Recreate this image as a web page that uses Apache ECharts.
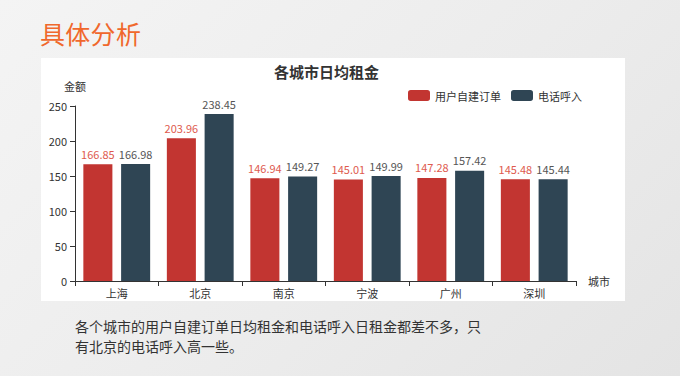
<!DOCTYPE html>
<html>
<head>
<meta charset="utf-8">
<script src="https://cdn.jsdelivr.net/npm/echarts@6/dist/echarts.min.js"></script>
<style>
html,body{margin:0;padding:0;width:680px;height:376px;overflow:hidden;}
body{background:linear-gradient(135deg,#f4f4f4 0%,#ececec 55%,#e4e4e4 100%);position:relative;font-family:"Noto Sans CJK SC","Noto Sans",sans-serif;}
#head{position:absolute;left:40px;top:17px;font-size:25px;color:#f0682c;line-height:32px;letter-spacing:0.3px;}
#chart{position:absolute;left:41px;top:58px;width:584px;height:243px;background:#fff;}
#note{position:absolute;left:75px;top:316px;width:470px;font-size:14px;line-height:20px;color:#333;}
</style>
</head>
<body>
<div id="head">具体分析</div>
<div id="chart"></div>
<div id="note">各个城市的用户自建订单日均租金和电话呼入日租金都差不多，只<br>有北京的电话呼入高一些。</div>
<script>
var titleText = '各城市日均租金';
var cities = ['上海', '北京', '南京', '宁波', '广州', '深圳'];
var seriesNames = ['用户自建订单', '电话呼入'];
var selfOrder = [166.85, 203.96, 146.94, 145.01, 147.28, 145.48];
var phoneCall = [166.98, 238.45, 149.27, 149.99, 157.42, 145.44];
var yTicks = [0, 50, 100, 150, 200, 250];

var chart = echarts.init(document.getElementById('chart'), null, {renderer: 'svg'});
var font = '"Noto Sans CJK SC","Noto Sans",sans-serif';
chart.setOption({
  animation: false,
  textStyle: {fontFamily: font},
  title: {
    text: titleText, left: 228, top: 1,
    textStyle: {fontSize: 15, fontWeight: 'bold', color: '#333', fontFamily: font}
  },
  legend: {
    data: seriesNames, left: 362, top: 27,
    itemWidth: 22, itemHeight: 11, itemGap: 10,
    textStyle: {fontSize: 11, color: '#333', fontFamily: font}
  },
  grid: {left: 34, right: 49, top: 48, bottom: 20, containLabel: false},
  xAxis: {
    type: 'category', data: cities, name: '城市', nameGap: 12,
    nameTextStyle: {fontSize: 11, color: '#333'},
    axisLine: {lineStyle: {color: '#333'}},
    axisTick: {show: true},
    axisLabel: {fontSize: 11, color: '#333', margin: 6}
  },
  yAxis: {
    type: 'value', name: '金额', min: yTicks[0], max: yTicks[yTicks.length - 1], interval: 50,
    nameTextStyle: {fontSize: 11, color: '#333'},
    axisLine: {show: true, lineStyle: {color: '#333'}},
    axisTick: {show: true},
    splitLine: {show: false},
    axisLabel: {fontSize: 11, color: '#333'}
  },
  series: [
    {
      name: seriesNames[0], type: 'bar', data: selfOrder,
      barGap: '30%', barCategoryGap: '20%',
      itemStyle: {color: '#c23531'},
      label: {show: true, position: 'top', fontSize: 11, color: '#de5a4e'}
    },
    {
      name: seriesNames[1], type: 'bar', data: phoneCall,
      barGap: '30%', barCategoryGap: '20%',
      itemStyle: {color: '#2f4554'},
      label: {show: true, position: 'top', fontSize: 11, color: '#555'}
    }
  ]
});
</script>
</body>
</html>
